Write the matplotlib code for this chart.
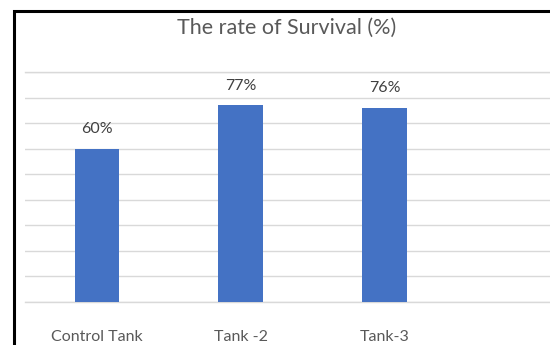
import matplotlib.pyplot as plt
from matplotlib.patches import Rectangle

# data
tanks = ['Control Tank', 'Tank -2', 'Tank-3']
survival = [60, 77, 76]
labels = ['60%', '77%', '76%']

plt.rcParams['font.family'] = ['Lato', 'DejaVu Sans']

fig = plt.figure(figsize=(5.5, 3.45), dpi=100)
ax = fig.add_axes([25 / 550, 1 - 302 / 345, 1 - 25 / 550, (302 - 72) / 345])

x = list(range(len(tanks)))
bars = ax.bar(x, survival, width=0.31, color='#4472C4', zorder=3)

for xi, v, lab in zip(x, survival, labels):
    ax.annotate(lab, (xi, v), xytext=(0, 9), textcoords='offset points',
                ha='center', va='bottom', fontsize=11.5, color='#404040')

ax.set_xlim(-0.5, 3.15)
ax.set_ylim(0, 90)
ax.set_yticks(range(0, 91, 10))
ax.yaxis.grid(True, color='#d9d9d9', lw=1, zorder=0)
ax.axhline(0, color='#d9d9d9', lw=1, zorder=1, clip_on=False)
ax.axhline(90, color='#d9d9d9', lw=1, zorder=1, clip_on=False)
ax.tick_params(axis='y', left=False, labelleft=False)
ax.set_xticks(x)
ax.set_xticklabels(tanks, fontsize=11.5, color='#595959')
ax.tick_params(axis='x', length=0, pad=20)
for s in ax.spines.values():
    s.set_visible(False)

fig.text(287 / 550, 1 - 28 / 345, 'The rate of Survival (%)', ha='center', va='center',
         fontsize=15.5, color='#595959')

# outer frame of the screenshot
fig.add_artist(Rectangle((13.5 / 550, -0.1), 1.2, 1.1 - 10.5 / 345, transform=fig.transFigure,
                         fill=False, edgecolor='black', lw=2.2))

fig.savefig('out.png', dpi=100)
